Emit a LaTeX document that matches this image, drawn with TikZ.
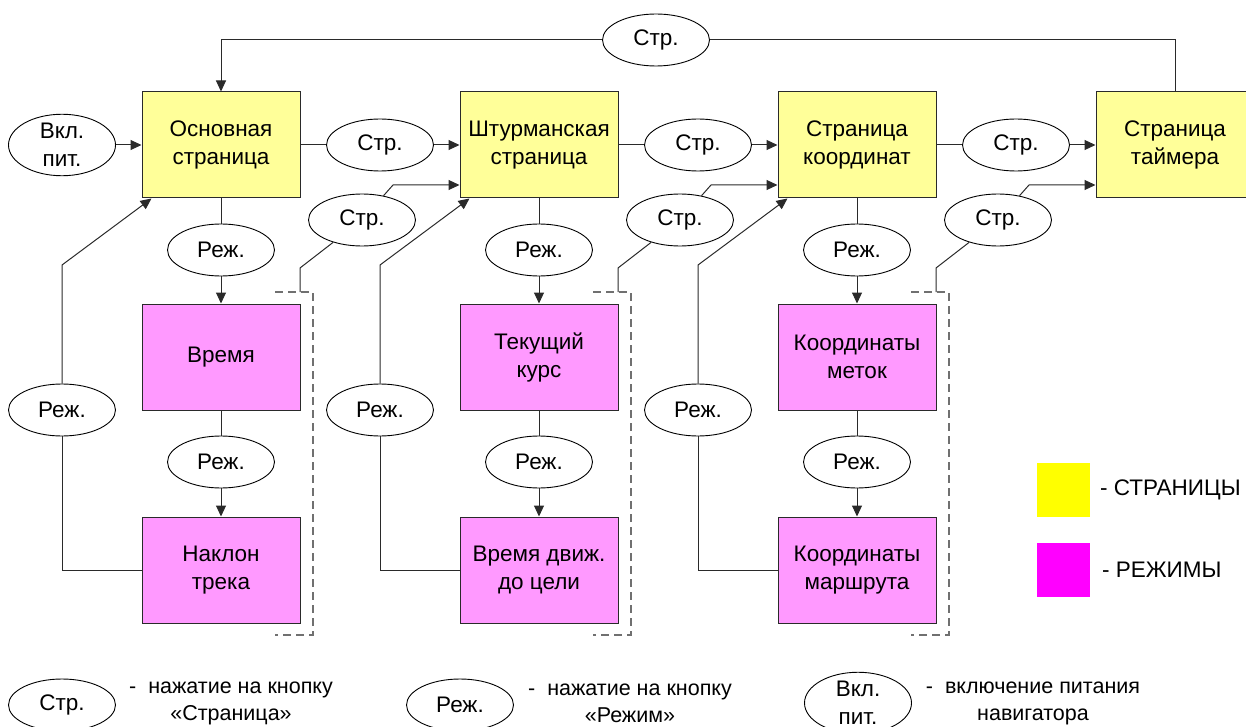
\documentclass[tikz,border=0pt]{standalone}
\usepackage{fontspec}
\setmainfont{Liberation Sans}
\usetikzlibrary{shapes.geometric,arrows.meta}
\definecolor{pageyellow}{HTML}{FFFF99}
\definecolor{modepink}{HTML}{FF99FF}
\definecolor{legyellow}{HTML}{FFFF00}
\definecolor{legpink}{HTML}{FF00FF}
\definecolor{linegray}{HTML}{2A2A2A}
\definecolor{dashgray}{HTML}{707070}
\tikzset{
  pagebox/.style={rectangle, draw=linegray, line width=1pt, fill=pageyellow, minimum width=158pt, minimum height=106pt, align=center, inner sep=0pt},
  modebox/.style={pagebox, fill=modepink},
  btn/.style={ellipse, draw=black, line width=0.9pt, fill=white, minimum width=107pt, minimum height=52pt, inner sep=0pt, align=center},
  conn/.style={draw=linegray, line width=1pt},
  arr/.style={conn, -{Triangle[length=11pt,width=10pt]}},
  bracket/.style={draw=dashgray, line width=1.6pt, dash pattern=on 8pt off 5pt},
  legtxt/.style={align=center, inner sep=0pt, font=\fontsize{21.5}{27}\selectfont}
}
\begin{document}
\begin{tikzpicture}[x=1pt,y=-1pt, font=\fontsize{22.5}{28}\selectfont]
\useasboundingbox (0,0) rectangle (1246,727);
\clip (0,0) rectangle (1246,727);
% pages
\node[pagebox] (osn) at (221,145) {Основная\\страница};
\node[pagebox] (sht) at (539,145) {Штурманская\\страница};
\node[pagebox] (koo) at (857,145) {Страница\\координат};
\node[pagebox] (tim) at (1175,145) {Страница\\таймера};
% modes
\node[modebox] (vre) at (221,357) {Время};
\node[modebox] (nak) at (221,570) {Наклон\\трека};
\node[modebox] (kur) at (539,357) {Текущий\\курс};
\node[modebox] (dvi) at (539,570) {Время движ.\\до цели};
\node[modebox] (met) at (857,357) {Координаты\\меток};
\node[modebox] (mar) at (857,570) {Координаты\\маршрута};
% buttons
\node[btn] (vkl) at (62,145) {Вкл.\\пит.};
\node[btn] (s0) at (656,40) {Стр.};
\node[btn] (s1) at (380,145) {Стр.};
\node[btn] (s2) at (698,145) {Стр.};
\node[btn] (s3) at (1016,145) {Стр.};
\node[btn] (d1) at (362,220) {Стр.};
\node[btn] (d2) at (680,220) {Стр.};
\node[btn] (d3) at (998,220) {Стр.};
\node[btn] (ra1) at (221,250) {Реж.};
\node[btn] (rb1) at (221,462) {Реж.};
\node[btn] (rl1) at (62,410) {Реж.};
\node[btn] (ra2) at (539,250) {Реж.};
\node[btn] (rb2) at (539,462) {Реж.};
\node[btn] (rl2) at (380,410) {Реж.};
\node[btn] (ra3) at (857,250) {Реж.};
\node[btn] (rb3) at (857,462) {Реж.};
\node[btn] (rl3) at (698,410) {Реж.};
% coordinates
\coordinate (k1) at (62,265);
\coordinate (k2) at (380,265);
\coordinate (k3) at (698,265);
\coordinate (b1) at (300,292);
\coordinate (c1) at (300,268);
\coordinate (b2) at (618,292);
\coordinate (c2) at (618,268);
\coordinate (b3) at (936,292);
\coordinate (c3) at (936,268);
\coordinate (e1) at (393,185);
\coordinate (e2) at (711,185);
\coordinate (e3) at (1029,185);
% top loop
\draw[conn] (tim.north) |- (s0.east);
\draw[arr] (s0.west) -| (osn.north);
% power on
\draw[arr] (vkl) -- (osn);
% page chain
\draw[conn] (osn) -- (s1); \draw[arr] (s1) -- (sht);
\draw[conn] (sht) -- (s2); \draw[arr] (s2) -- (koo);
\draw[conn] (koo) -- (s3); \draw[arr] (s3) -- (tim);
% mode chains
\foreach \p/\a/\m/\b/\n in {osn/ra1/vre/rb1/nak, sht/ra2/kur/rb2/dvi, koo/ra3/met/rb3/mar}{
  \draw[conn] (\p) -- (\a); \draw[arr] (\a) -- (\m);
  \draw[conn] (\m) -- (\b); \draw[arr] (\b) -- (\n);
}
% return loops
\draw[conn] (nak.west) -| (rl1.south);
\draw[arr] (rl1.north) -- (k1) -- ([xshift=10pt]osn.south west);
\draw[conn] (dvi.west) -| (rl2.south);
\draw[arr] (rl2.north) -- (k2) -- ([xshift=10pt]sht.south west);
\draw[conn] (mar.west) -| (rl3.south);
\draw[arr] (rl3.north) -- (k3) -- ([xshift=10pt]koo.south west);
% page button from mode group
\draw[conn] (b1) -- (c1) -- (d1);
\draw[arr] (d1) -- (e1) -- (sht.west |- e1);
\draw[conn] (b2) -- (c2) -- (d2);
\draw[arr] (d2) -- (e2) -- (koo.west |- e2);
\draw[conn] (b3) -- (c3) -- (d3);
\draw[arr] (d3) -- (e3) -- (tim.west |- e3);
% dashed brackets
\draw[bracket] (275,292) -- (313,292) -- (313,635) -- (275,635);
\draw[bracket] (593,292) -- (631,292) -- (631,635) -- (593,635);
\draw[bracket] (911,292) -- (949,292) -- (949,635) -- (911,635);
% legend colours
\node[fill=legyellow, minimum width=53pt, minimum height=54pt, inner sep=0pt] (ly) at (1063.5,490) {};
\node[fill=legpink, minimum width=53pt, minimum height=54pt, inner sep=0pt] (lp) at (1063.5,570) {};
\node[anchor=west, inner sep=0pt] (lyt) at (1100,490) {- СТРАНИЦЫ};
\node[anchor=west, inner sep=0pt] (lpt) at (1102,570) {- РЕЖИМЫ};
% bottom legend
\node[btn] (ls) at (62,705) {Стр.};
\node[legtxt] (lst) at (231,703) {-\ \ нажатие на кнопку\\«Страница»};
\node[btn] (lr) at (460,705) {Реж.};
\node[legtxt] (lrt) at (630,703) {-\ \ нажатие на кнопку\\«Режим»};
\node[btn] (lv) at (858,703) {Вкл.\\пит.};
\node[legtxt] (lvt) at (1033,703) {-\ \ включение питания\\навигатора};
\end{tikzpicture}
\end{document}
